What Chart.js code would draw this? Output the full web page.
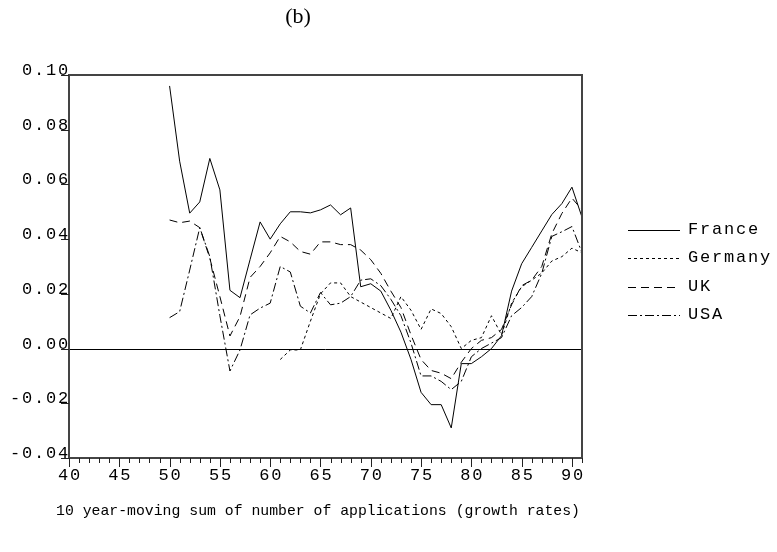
<!DOCTYPE html>
<html>
<head>
<meta charset="utf-8">
<script src="https://cdn.jsdelivr.net/npm/chart.js@4/dist/chart.umd.min.js"></script>
<style>
  body { margin: 0; background: #fff; }
  #wrap { width: 777px; height: 552px; }
</style>
</head>
<body>
<div id="wrap"><canvas id="chart" width="777" height="552"></canvas></div>
<script>
// years 1950 - 1991
const years = [50, 51, 52, 53, 54, 55, 56, 57, 58, 59, 60, 61, 62, 63, 64, 65, 66, 67, 68, 69, 70,
               71, 72, 73, 74, 75, 76, 77, 78, 79, 80, 81, 82, 83, 84, 85, 86, 87, 88, 89, 90, 91];

const france = [0.096, 0.0685, 0.0495, 0.0536, 0.0695, 0.058, 0.0213, 0.0186, 0.0325, 0.0463, 0.040,
                0.0456, 0.050, 0.050, 0.0496, 0.0507, 0.0525, 0.0489, 0.0514, 0.0226, 0.0237,
                0.021, 0.014, 0.006, -0.004, -0.016, -0.0205, -0.0205, -0.029, -0.0055, -0.0055,
                -0.003, 0.0, 0.0047, 0.021, 0.031, 0.037, 0.043, 0.049, 0.053, 0.059, 0.048];

const germany = [null, null, null, null, null, null, null, null, null, null, null,
                 -0.004, -0.0005, -0.0005, 0.010, 0.020, 0.024, 0.024, 0.019, 0.017, 0.015,
                 0.013, 0.011, 0.019, 0.014, 0.007, 0.0145, 0.0128, 0.008, 0.0, 0.003,
                 0.004, 0.012, 0.005, 0.0166, 0.0226, 0.025, 0.0276, 0.032, 0.0336, 0.0367, 0.035];

const uk = [0.047, 0.046, 0.0466, 0.0442, 0.033, 0.019, 0.0046, 0.0117, 0.026, 0.030, 0.035,
            0.041, 0.039, 0.0355, 0.0345, 0.039, 0.039, 0.038, 0.038, 0.036, 0.0325,
            0.0275, 0.021, 0.015, 0.005, -0.004, -0.008, -0.009, -0.011, -0.005, 0.0,
            0.003, 0.004, 0.007, 0.016, 0.023, 0.025, 0.030, 0.042, 0.0494, 0.055, 0.0507];

const usa = [0.0113, 0.0135, 0.0287, 0.0442, 0.0336, 0.012, -0.0082, -0.0005, 0.0123, 0.0148, 0.0166,
             0.030, 0.028, 0.0155, 0.013, 0.0205, 0.016, 0.0166, 0.019, 0.025, 0.0255,
             0.023, 0.018, 0.012, 0.002, -0.010, -0.010, -0.012, -0.015, -0.012, -0.003,
             0.0, 0.002, 0.004, 0.012, 0.015, 0.019, 0.0275, 0.041, 0.0427, 0.0446, 0.035];

const seriesNames = ['France', 'Germany', 'UK', 'USA'];
const dashes = [[], [3, 3], [8, 5], [9, 3, 2, 3]];

const xTicks = [40, 45, 50, 55, 60, 65, 70, 75, 80, 85, 90];
const yTicks = [-0.04, -0.02, 0.00, 0.02, 0.04, 0.06, 0.08, 0.10];

function pts(arr) {
    return years.map((yr, i) => ({ x: yr, y: arr[i] }));
}

// Frame, ticks, labels and legend drawn on top
const decorations = {
    id: 'decorations',
    beforeDatasetsDraw(chart) {
        const ctx = chart.ctx;
        const a = chart.chartArea;
        const ys = chart.scales.y;
        ctx.save();
        ctx.strokeStyle = '#000';
        ctx.lineWidth = 1;
        const y0 = Math.round(ys.getPixelForValue(0)) + 0.5;
        ctx.beginPath();
        ctx.moveTo(a.left, y0);
        ctx.lineTo(a.right, y0);
        ctx.stroke();
        ctx.restore();
    },
    afterDraw(chart) {
        const ctx = chart.ctx;
        const a = chart.chartArea;
        const xs = chart.scales.x;
        const ys = chart.scales.y;
        ctx.save();

        // frame
        ctx.strokeStyle = '#444';
        ctx.lineWidth = 2;
        ctx.strokeRect(a.left, a.top, a.right - a.left, a.bottom - a.top);

        // x ticks (every year, longer every 5)
        ctx.strokeStyle = '#222';
        ctx.lineWidth = 1;
        for (let v = 40; v <= 91; v++) {
            const px = Math.round(xs.getPixelForValue(v)) + 0.5;
            ctx.beginPath();
            ctx.moveTo(px, a.bottom);
            ctx.lineTo(px, a.bottom + (v % 5 === 0 ? 9 : 5));
            ctx.stroke();
        }
        ctx.fillStyle = '#000';
        ctx.font = '17px "Liberation Mono", monospace';
        ctx.letterSpacing = '1.8px';
        ctx.textAlign = 'center';
        ctx.textBaseline = 'top';
        xTicks.forEach(v => {
            ctx.fillText(String(v), xs.getPixelForValue(v) + 1, a.bottom + 9);
        });

        // y ticks: label sits above a short tick line
        ctx.textAlign = 'right';
        ctx.textBaseline = 'alphabetic';
        yTicks.forEach(v => {
            const py = Math.round(ys.getPixelForValue(v)) + 0.5;
            ctx.beginPath();
            ctx.moveTo(a.left - 8, py);
            ctx.lineTo(a.left, py);
            ctx.stroke();
            ctx.fillText(v.toFixed(2), a.left + 1, py - 1);
        });

        // legend
        const rowY = [230, 258, 287, 315];
        ctx.font = '17px "Liberation Mono", monospace';
        ctx.letterSpacing = '1.8px';
        ctx.textAlign = 'left';
        ctx.textBaseline = 'middle';
        seriesNames.forEach((name, i) => {
            ctx.setLineDash(dashes[i]);
            ctx.strokeStyle = '#000';
            ctx.beginPath();
            ctx.moveTo(628, rowY[i] + 0.5);
            ctx.lineTo(680, rowY[i] + 0.5);
            ctx.stroke();
            ctx.setLineDash([]);
            ctx.fillText(name, 688, rowY[i] - 1);
        });

        // titles
        ctx.letterSpacing = '0px';
        ctx.font = '22px "Liberation Serif", serif';
        ctx.textAlign = 'center';
        ctx.fillText('(b)', 298, 17);
        ctx.font = '14.8px "Liberation Mono", monospace';
        ctx.fillText('10 year-moving sum of number of applications (growth rates)', 318, 511);

        ctx.restore();
    }
};

const lineDs = (label, arr, dash) => ({
    label: label,
    data: pts(arr),
    borderColor: '#000',
    borderWidth: 1,
    borderDash: dash,
    pointRadius: 0,
    tension: 0,
    fill: false,
    spanGaps: false
});

new Chart(document.getElementById('chart').getContext('2d'), {
    type: 'line',
    data: {
        datasets: [
            lineDs('France', france, dashes[0]),
            lineDs('Germany', germany, dashes[1]),
            lineDs('UK', uk, dashes[2]),
            lineDs('USA', usa, dashes[3])
        ]
    },
    options: {
        responsive: false,
        animation: false,
        devicePixelRatio: 1,
        layout: { padding: { left: 69, right: 195, top: 75, bottom: 94 } },
        plugins: {
            legend: { display: false },
            tooltip: { enabled: false },
            title: { display: false }
        },
        scales: {
            x: { type: 'linear', min: 40, max: 91, display: false },
            y: { type: 'linear', min: -0.04, max: 0.10, display: false }
        }
    },
    plugins: [decorations]
});
</script>
</body>
</html>
